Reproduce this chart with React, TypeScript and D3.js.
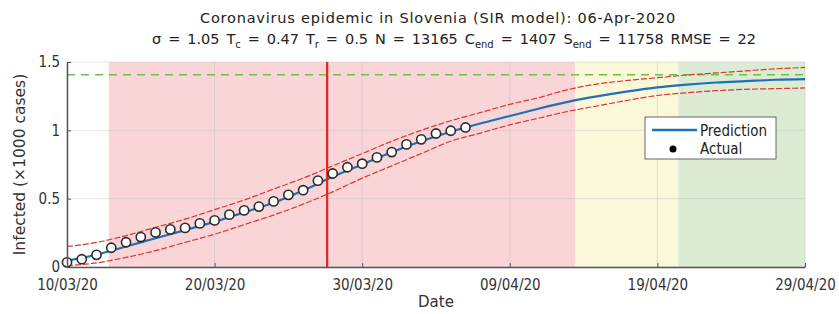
import React, { useEffect, useRef } from "react";
import * as d3 from "d3";

// Actual cumulative cases (x1000), daily from 10/03/20
const actualStart = "2020-03-10";
const actualCases = [
  0.034, 0.057, 0.089, 0.141, 0.181, 0.219, 0.253, 0.275, 0.286, 0.319,
  0.341, 0.383, 0.414, 0.442, 0.48, 0.528, 0.562, 0.632, 0.684, 0.73,
  0.756, 0.802, 0.841, 0.897, 0.934, 0.977, 0.997, 1.021,
];

// model curves, every 2 days from 10/03/20
const modelStep = 2;
const prediction = [
  0.045, 0.09, 0.15, 0.21, 0.27, 0.33, 0.4, 0.47, 0.56, 0.66, 0.75, 0.84, 0.92,
  0.99, 1.05, 1.105, 1.16, 1.21, 1.25, 1.285, 1.315, 1.335, 1.35, 1.36, 1.37,
  1.375,
];
const upperBound = [
  0.15, 0.18, 0.23, 0.29, 0.35, 0.42, 0.49, 0.57, 0.65, 0.74, 0.83, 0.92, 1.0,
  1.07, 1.13, 1.19, 1.24, 1.3, 1.34, 1.365, 1.385, 1.405, 1.42, 1.435, 1.45,
  1.46,
];
const lowerBound = [
  0.01, 0.03, 0.07, 0.12, 0.18, 0.24, 0.31, 0.38, 0.46, 0.55, 0.65, 0.74, 0.83,
  0.92, 0.98, 1.04, 1.09, 1.14, 1.18, 1.22, 1.255, 1.275, 1.29, 1.3, 1.305,
  1.31,
];

const cEnd = 1.407;
const markerDate = "2020-03-27T15:00";

const phaseBounds = [
  "2020-03-12T20:00",
  "2020-04-13T10:00",
  "2020-04-20T10:00",
  "2020-04-29T00:00",
];
const phaseColors = ["#f9d5d8", "#fbf7d9", "#dcebd3"];

const xTickDates = [
  "2020-03-10",
  "2020-03-20",
  "2020-03-30",
  "2020-04-09",
  "2020-04-19",
  "2020-04-29",
];
const yTicks = [0, 0.5, 1, 1.5];

const DAY = 86400000;

const App = () => {
  const ref = useRef<SVGSVGElement>(null);

  useEffect(() => {
    const margin = { top: 62, right: 34, bottom: 47, left: 67 };
    const W = 839,
      H = 314;
    const width = W - margin.left - margin.right;
    const height = H - margin.top - margin.bottom;
    const font = "DejaVu Sans, sans-serif";
    const cond = "DejaVu Sans Condensed, DejaVu Sans, sans-serif";

    const svg = d3.select(ref.current);
    svg.selectAll("*").remove();
    svg.attr("width", W).attr("height", H);

    const parse = (s: string) => new Date(s);
    const t0 = parse(actualStart).getTime();

    const x = d3
      .scaleTime()
      .domain([parse("2020-03-10"), parse("2020-04-29")])
      .range([0, width]);
    const y = d3.scaleLinear().domain([0, 1.5]).range([height, 0]);

    const g = svg
      .append("g")
      .attr("transform", `translate(${margin.left},${margin.top})`);

    // phase backgrounds
    phaseColors.forEach((c, i) => {
      const a = x(parse(phaseBounds[i]));
      const b = x(parse(phaseBounds[i + 1]));
      g.append("rect")
        .attr("x", a)
        .attr("y", 0)
        .attr("width", b - a)
        .attr("height", height)
        .attr("fill", c);
    });

    // grid
    xTickDates.forEach((d) => {
      g.append("line")
        .attr("x1", x(parse(d)))
        .attr("x2", x(parse(d)))
        .attr("y1", 0)
        .attr("y2", height)
        .attr("stroke", "#bdbdbd")
        .attr("stroke-opacity", 0.5)
        .attr("stroke-width", 0.8);
    });
    yTicks.forEach((v) => {
      g.append("line")
        .attr("x1", 0)
        .attr("x2", width)
        .attr("y1", y(v))
        .attr("y2", y(v))
        .attr("stroke", "#bdbdbd")
        .attr("stroke-opacity", 0.5)
        .attr("stroke-width", 0.8);
    });

    // C_end level
    g.append("line")
      .attr("x1", 0)
      .attr("x2", width)
      .attr("y1", y(cEnd))
      .attr("y2", y(cEnd))
      .attr("stroke", "#6cbf4a")
      .attr("stroke-width", 1.5)
      .attr("stroke-dasharray", "8 6");

    const modelLine = (vals: number[]) =>
      d3
        .line<number>()
        .x((_, i) => x(new Date(t0 + i * modelStep * DAY)))
        .y((v) => y(v))
        .curve(d3.curveMonotoneX)(vals);

    [upperBound, lowerBound].forEach((b) => {
      g.append("path")
        .attr("d", modelLine(b))
        .attr("fill", "none")
        .attr("stroke", "#e0342f")
        .attr("stroke-width", 1.2)
        .attr("stroke-dasharray", "6 2");
    });

    g.append("path")
      .attr("d", modelLine(prediction))
      .attr("fill", "none")
      .attr("stroke", "#1f6fb4")
      .attr("stroke-width", 2.2);

    // marker date line
    g.append("line")
      .attr("x1", x(parse(markerDate)))
      .attr("x2", x(parse(markerDate)))
      .attr("y1", 0)
      .attr("y2", height)
      .attr("stroke", "#e8231f")
      .attr("stroke-width", 2.2);

    // actual points
    g.selectAll(".pt")
      .data(actualCases)
      .enter()
      .append("circle")
      .attr("cx", (_, i) => x(new Date(t0 + i * DAY)))
      .attr("cy", (v) => y(v))
      .attr("r", 4.6)
      .attr("fill", "#ffffff")
      .attr("stroke", "#2a2a2a")
      .attr("stroke-width", 1.6);

    // axes
    const xAxis = g
      .append("g")
      .attr("transform", `translate(0,${height})`)
      .call(
        d3
          .axisBottom(x)
          .tickValues(xTickDates.map(parse))
          .tickFormat(d3.timeFormat("%d/%m/%y") as any)
          .tickSizeInner(-4)
          .tickSizeOuter(0)
          .tickPadding(12)
      );
    xAxis.select(".domain").attr("stroke", "#555").attr("stroke-width", 1.5);
    xAxis.selectAll(".tick line").attr("stroke", "#555");
    xAxis
      .selectAll("text")
      .attr("font-family", cond)
      .attr("font-size", 15)
      .attr("fill", "#333");

    const yAxis = g.append("g").call(
      d3
        .axisLeft(y)
        .tickValues(yTicks)
        .tickFormat(d3.format("~g") as any)
        .tickSizeInner(-4)
        .tickSizeOuter(0)
        .tickPadding(7)
    );
    yAxis.select(".domain").attr("stroke", "#555").attr("stroke-width", 1.5);
    yAxis.selectAll(".tick line").attr("stroke", "#555");
    yAxis
      .selectAll("text")
      .attr("font-family", cond)
      .attr("font-size", 15)
      .attr("fill", "#333");

    // titles
    svg
      .append("text")
      .attr("x", 438)
      .attr("y", 23)
      .attr("text-anchor", "middle")
      .attr("font-family", font)
      .attr("font-size", 14.5)
      .attr("letter-spacing", 0.8)
      .attr("fill", "#222")
      .text("Coronavirus epidemic in Slovenia (SIR model): 06-Apr-2020");

    const t2 = svg
      .append("text")
      .attr("x", 454)
      .attr("y", 44)
      .attr("text-anchor", "middle")
      .attr("font-family", font)
      .attr("font-size", 14.5)
      .attr("font-weight", 500)
      .attr("word-spacing", 2.3)
      .attr("fill", "#222");
    const parts: [string, boolean][] = [
      ["σ = 1.05 T", false],
      ["c", true],
      [" = 0.47 T", false],
      ["r", true],
      [" = 0.5 N = 13165 C", false],
      ["end", true],
      [" = 1407 S", false],
      ["end", true],
      [" = 11758 RMSE = 22", false],
    ];
    parts.forEach(([s, sub], i) => {
      const ts = t2.append("tspan").text(s);
      if (sub) ts.attr("font-size", 10).attr("dy", 4);
      else if (i > 0 && parts[i - 1][1]) ts.attr("dy", -4);
    });

    svg
      .append("text")
      .attr("x", margin.left + width / 2)
      .attr("y", 307)
      .attr("text-anchor", "middle")
      .attr("font-family", font)
      .attr("font-size", 15)
      .attr("fill", "#333")
      .text("Date");

    svg
      .append("text")
      .attr("transform", `translate(25,${margin.top + height / 2}) rotate(-90)`)
      .attr("text-anchor", "middle")
      .attr("font-family", font)
      .attr("font-size", 15.5)
      .attr("fill", "#333")
      .text("Infected (×1000 cases)");

    // legend
    const lg = svg.append("g").attr("transform", "translate(645,117)");
    lg.append("rect")
      .attr("width", 131)
      .attr("height", 42)
      .attr("fill", "#ffffff")
      .attr("stroke", "#444")
      .attr("stroke-width", 0.8);
    lg.append("line")
      .attr("x1", 7)
      .attr("x2", 52)
      .attr("y1", 13)
      .attr("y2", 13)
      .attr("stroke", "#1f6fb4")
      .attr("stroke-width", 2.5);
    lg.append("circle").attr("cx", 28).attr("cy", 32).attr("r", 3.5).attr("fill", "#000");
    lg.append("text")
      .attr("x", 55)
      .attr("y", 18.5)
      .attr("font-family", cond)
      .attr("font-size", 15)
      .attr("fill", "#222")
      .text("Prediction");
    lg.append("text")
      .attr("x", 55)
      .attr("y", 36.5)
      .attr("font-family", cond)
      .attr("font-size", 15)
      .attr("fill", "#222")
      .text("Actual");
  }, []);

  return (
    <div style={{ position: "absolute", left: 0, top: 0 }}>
      <svg ref={ref}></svg>
    </div>
  );
};

export default App;
